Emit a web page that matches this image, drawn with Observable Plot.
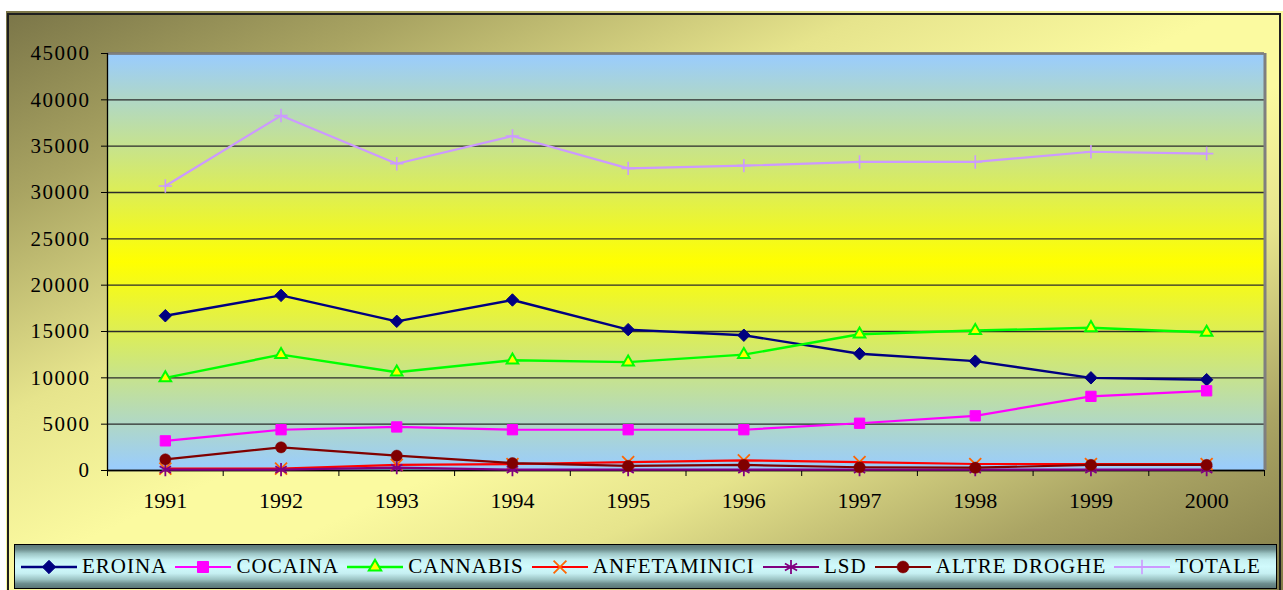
<!DOCTYPE html>
<html>
<head>
<meta charset="utf-8">
<script src="https://cdn.jsdelivr.net/npm/d3@7"></script>
<script src="https://cdn.jsdelivr.net/npm/@observablehq/plot@0.6"></script>
<style>
  html, body { margin: 0; padding: 0; background: #fff; width: 1283px; height: 590px; overflow: hidden; }
  #frame {
    position: absolute; left: 6px; top: 11px; width: 1277px; height: 590px;
    box-sizing: border-box; padding: 2px;
    background: linear-gradient(to bottom right, #7a7548 0%, #a9a462 16%, #e6e48c 34%, #fbfaa0 48%, #fbfaa0 56%, #e6e48c 68%, #aaa464 84%, #7f7946 100%);
  }
  #frame::after {
    content: ""; position: absolute; left: 1px; top: 2px; right: 2px; bottom: 0;
    border: 2px solid #1e1e1e; border-bottom: none;
  }
  #chart { position: absolute; left: 0; top: 0; }
  #legend {
    position: absolute; left: 14px; top: 544px; width: 1263px; height: 45px;
    border: 1.5px solid #000; box-sizing: border-box;
    background: linear-gradient(to bottom, #5c7878 0%, #6c8c8c 10%, #9cc4c4 20%, #c6f0f2 34%, #d0fafc 50%, #c6f0f2 66%, #9cc4c4 80%, #6c8c8c 90%, #5c7878 100%);
    display: flex; align-items: center; justify-content: space-between;
    padding: 0 15px 0 6px;
    font-family: "Liberation Serif", "Times New Roman", serif; font-size: 21px; letter-spacing: 1px; color: #000;
  }
  .item { display: flex; align-items: center; }
  .item svg { margin-right: 5px; overflow: visible; }
</style>
</head>
<body>
<div id="frame"></div>
<div id="chart"></div>
<div id="legend"></div>
<script>
// ---- data ----
const years = [1991, 1992, 1993, 1994, 1995, 1996, 1997, 1998, 1999, 2000];
const seriesNames = ["EROINA", "COCAINA", "CANNABIS", "ANFETAMINICI", "LSD", "ALTRE DROGHE", "TOTALE"];
const eroina       = [16700, 18900, 16100, 18400, 15200, 14600, 12600, 11800, 10000, 9800];
const cocaina      = [3200, 4400, 4700, 4400, 4400, 4400, 5100, 5900, 8000, 8600];
const cannabis     = [10000, 12500, 10600, 11900, 11700, 12500, 14700, 15100, 15400, 14900];
const anfetaminici = [200, 200, 600, 700, 900, 1100, 900, 700, 700, 700];
const lsd          = [100, 100, 300, 100, 100, 100, 100, 100, 100, 100];
const altreDroghe  = [1200, 2500, 1600, 800, 500, 600, 350, 300, 600, 600];
const totale       = [30700, 38300, 33100, 36100, 32600, 32900, 33300, 33300, 34400, 34200];
const yTicks = [0, 5000, 10000, 15000, 20000, 25000, 30000, 35000, 40000, 45000];

const seriesValues = [eroina, cocaina, cannabis, anfetaminici, lsd, altreDroghe, totale];

// ---- styles ----
const styles = [
  {line: "#000080", symbol: "diamond2", r: 5.6, fill: "#000080", stroke: "#000080", sw: 1, lw: 2.4},
  {line: "#ff00ff", symbol: "square",   r: 5.8, fill: "#ff00ff", stroke: "#ff00ff", sw: 1, lw: 2.2},
  {line: "#00ff00", symbol: "triangle", r: 4.3, fill: "#ffff00", stroke: "#00ff00", sw: 2, lw: 2.4},
  {line: "#ff0000", symbol: "times",    r: 5.5, fill: "none",    stroke: "#ff6600", sw: 1.8, lw: 2.2},
  {line: "#800080", symbol: "asterisk", r: 6.2, fill: "none",    stroke: "#800080", sw: 1.8, lw: 2.2},
  {line: "#800000", symbol: "circle",   r: 5.6, fill: "#800000", stroke: "#800000", sw: 0.5, lw: 2.2},
  {line: "#cc99ff", symbol: "plus",     r: 4.4, fill: "none",    stroke: "#cc99ff", sw: 1.6, lw: 2.2}
];

const rows = seriesNames.map((name, s) => years.map((yr, i) => ({series: name, year: yr, value: seriesValues[s][i]})));
const xBounds = d3.range(years[0] - 0.5, years[years.length - 1] + 1, 1);

const seriesMarks = [];
rows.forEach((data, s) => {
  const st = styles[s];
  seriesMarks.push(Plot.line(data, {x: "year", y: "value", stroke: st.line, strokeWidth: st.lw}));
  seriesMarks.push(Plot.dot(data, {x: "year", y: "value", symbol: st.symbol, r: st.r, fill: st.fill, stroke: st.stroke, strokeWidth: st.sw}));
});

const chart = Plot.plot({
  width: 1283,
  height: 530,
  marginLeft: 107,
  marginRight: 19,
  marginTop: 53,
  marginBottom: 60,
  style: {fontFamily: "'Liberation Serif', 'Times New Roman', serif", fontSize: "20px", background: "transparent", color: "#000", overflow: "visible"},
  x: {type: "linear", domain: [years[0] - 0.5, years[years.length - 1] + 0.5]},
  y: {domain: [0, 45000]},
  marks: [
    Plot.frame({fill: "url(#plotBg)", stroke: "none"}),
    Plot.gridY(yTicks, {stroke: "#2b2b2b", strokeOpacity: 1, strokeWidth: 1.3}),
    Plot.ruleX([xBounds[xBounds.length - 1]], {stroke: "#7f7f7f", strokeWidth: 3, dx: 0.5}),
    Plot.ruleY([45000], {stroke: "#7f7f7f", strokeWidth: 2.5}),
    Plot.ruleX([xBounds[0]], {stroke: "#000", strokeWidth: 1.3}),
    Plot.ruleY([0], {stroke: "#000", strokeWidth: 1.3}),
    Plot.axisY({ticks: yTicks, tickSize: 6, tickPadding: 11, tickFormat: d => String(d), label: null, fontSize: 21}),
    Plot.axisX({ticks: years, tickSize: 0, tickPadding: 22, tickFormat: d => String(d), label: null, fontSize: 22}),
    Plot.axisX({ticks: xBounds, tickSize: 6, tickFormat: () => "", label: null}),
    ...seriesMarks
  ]
});

const svg = chart.tagName.toLowerCase() === "svg" ? chart : chart.querySelector("svg");
const NS = "http://www.w3.org/2000/svg";
const defs = document.createElementNS(NS, "defs");
const grad = document.createElementNS(NS, "linearGradient");
grad.setAttribute("id", "plotBg");
grad.setAttribute("x1", "0"); grad.setAttribute("y1", "0");
grad.setAttribute("x2", "0"); grad.setAttribute("y2", "1");
[["0", "#99ccff"], ["0.5", "#ffff00"], ["1", "#99ccff"]].forEach(([o, c]) => {
  const stop = document.createElementNS(NS, "stop");
  stop.setAttribute("offset", o);
  stop.setAttribute("stop-color", c);
  grad.appendChild(stop);
});
defs.appendChild(grad);
svg.insertBefore(defs, svg.firstChild);
// slight letter spacing on the y tick labels (left axis)
svg.querySelectorAll("g[aria-label='y-axis tick label']").forEach(el => el.style.letterSpacing = "1.5px");
document.getElementById("chart").appendChild(chart);

// ---- legend ----
const symbolMap = {
  diamond2: d3.symbolDiamond2, square: d3.symbolSquare, triangle: d3.symbolTriangle,
  times: d3.symbolTimes, asterisk: d3.symbolAsterisk, circle: d3.symbolCircle, plus: d3.symbolPlus
};
const legend = d3.select("#legend");
seriesNames.forEach((name, s) => {
  const st = styles[s];
  const item = legend.append("div").attr("class", "item");
  const sw = item.append("svg").attr("width", 56).attr("height", 20);
  sw.append("line").attr("x1", 0).attr("x2", 56).attr("y1", 10).attr("y2", 10)
    .attr("stroke", st.line).attr("stroke-width", st.lw);
  sw.append("path").attr("transform", "translate(28,10)")
    .attr("d", d3.symbol(symbolMap[st.symbol], Math.PI * st.r * st.r * 1.15)())
    .attr("fill", st.fill).attr("stroke", st.stroke).attr("stroke-width", st.sw);
  item.append("span").text(name);
});
</script>
</body>
</html>
